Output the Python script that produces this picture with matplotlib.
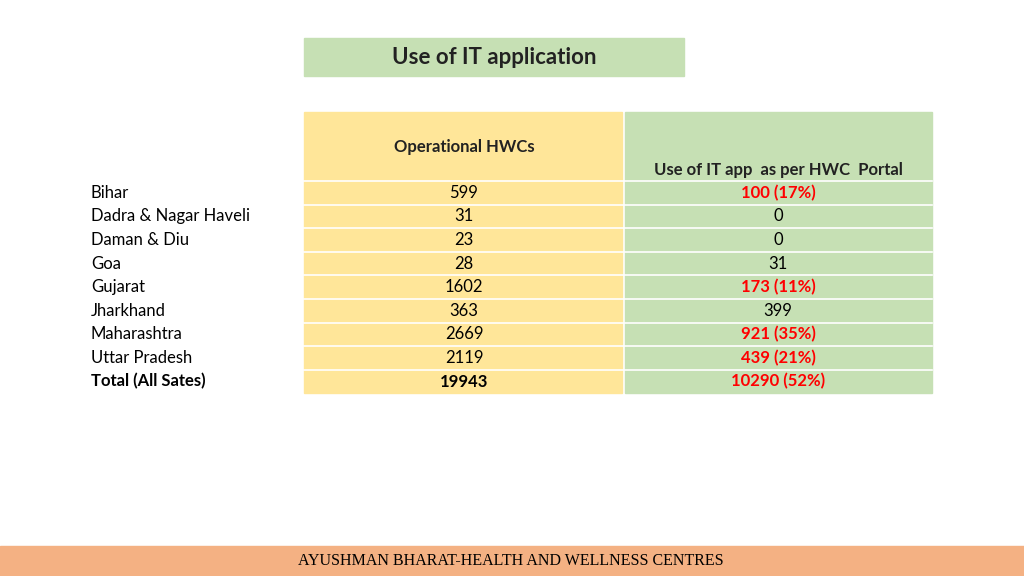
import matplotlib.pyplot as plt
from matplotlib.patches import Rectangle

states = ["Bihar", "Dadra & Nagar Haveli", "Daman & Diu", "Goa", "Gujarat",
          "Jharkhand", "Maharashtra", "Uttar Pradesh", "Total (All Sates)"]
operational = ["599", "31", "23", "28", "1602", "363", "2669", "2119", "19943"]
it_app = ["100 (17%)", "0", "0", "31", "173 (11%)", "399", "921 (35%)", "439 (21%)", "10290 (52%)"]

YELLOW = "#FFE699"
GREEN = "#C6E0B4"
FONT = "Lato"

fig = plt.figure(figsize=(10.24, 5.76), dpi=100)
ax = fig.add_axes([0, 0, 1, 1])
ax.set_xlim(0, 1024)
ax.set_ylim(576, 0)
ax.axis("off")

# title box
ax.add_patch(Rectangle((304, 38), 380, 38, color=GREEN))
ax.text(494, 58, "Use of IT application", ha="center", va="center",
        fontsize=16, fontweight="bold", family=FONT, color="#222222")

# table background
top, head_h, row_h = 112, 69, 23.6
n = len(states)
bottom = top + head_h + n * row_h
ax.add_patch(Rectangle((304, top), 318, bottom - top, color=YELLOW))
ax.add_patch(Rectangle((625, top), 307, bottom - top, color=GREEN))

ax.text(464, 147, "Operational HWCs", ha="center", va="center",
        fontsize=12, fontweight="bold", family=FONT, color="#222222")
ax.text(778, 170, "Use of IT app  as per HWC  Portal", ha="center", va="center",
        fontsize=12, fontweight="bold", family=FONT, color="#222222")

for i, (s, o, a) in enumerate(zip(states, operational, it_app)):
    y0 = top + head_h + i * row_h
    ax.plot([304, 932], [y0, y0], color="white", lw=1.2)
    yc = y0 + row_h / 2
    last = i == n - 1
    w = "bold" if last else "normal"
    ax.text(91, yc, s, ha="left", va="center", fontsize=12, family=FONT,
            fontweight=w, color="black")
    ax.text(464, yc, o, ha="center", va="center", fontsize=12, family=FONT,
            fontweight=w, color="black")
    red = "%" in a
    ax.text(778, yc, a, ha="center", va="center", fontsize=12, family=FONT,
            fontweight="bold" if red else "normal",
            color="#FF0000" if red else "black")

# footer band
ax.add_patch(Rectangle((0, 546), 1024, 30, color="#F4B183"))
ax.text(511, 561, "AYUSHMAN BHARAT-HEALTH AND WELLNESS CENTRES", ha="center",
        va="center", fontsize=11.5, family="Liberation Serif", color="black")

fig.savefig("out.png", dpi=100)
